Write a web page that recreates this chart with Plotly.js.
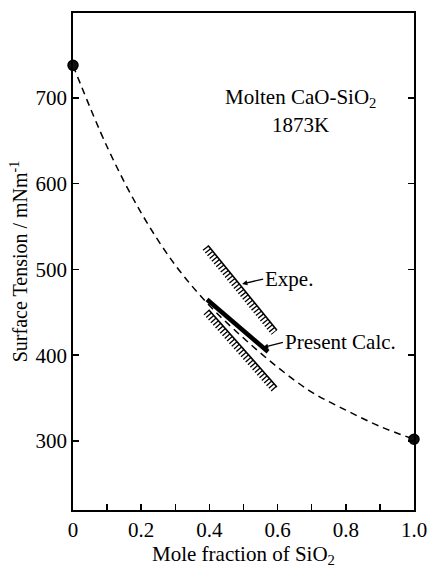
<!DOCTYPE html>
<html>
<head>
<meta charset="utf-8">
<script src="https://cdn.plot.ly/plotly-3.0.1.min.js"></script>
<style>html,body{margin:0;padding:0;background:#fff;}#chart{width:428px;height:568px;}</style>
</head>
<body>
<div id="chart"></div>
<script>
// Dashed fitted curve (mole fraction SiO2 vs surface tension)
const curveX = [0, 0.1, 0.2, 0.3, 0.4, 0.5, 0.6, 0.7, 0.8, 0.9, 1.0];
const curveY = [738, 643, 566, 505, 458, 420, 386, 357, 336, 317, 302];
// Pure component points
const pureX = [0, 1.0];
const pureY = [738, 302];
// Present calculation (thick line)
const calcX = [0.393, 0.572];
const calcY = [465, 404];
// Experimental band (upper and lower hatched bounds)
const expUpperX = [0.396, 0.598];
const expUpperY = [528, 429];
const expLowerX = [0.398, 0.598];
const expLowerY = [453, 363];
// Tick labels
const xTickVals = [0, 0.2, 0.4, 0.6, 0.8, 1.0];
const xTickText = ['0', '0.2', '0.4', '0.6', '0.8', '1.0'];
const xMinorVals = [0.1, 0.3, 0.5, 0.7, 0.9];
const yTickVals = [300, 400, 500, 600, 700];

const W = 428, H = 568;
const M = {l: 73, r: 14, t: 13, b: 58};
const xRange = [0, 1];
const yRange = [219.5, 799];
const pxX = (W - M.l - M.r) / (xRange[1] - xRange[0]);
const pxY = (H - M.t - M.b) / (yRange[1] - yRange[0]);

// offset a segment perpendicular (toward lower-left) by d pixels
function offsetSeg(xs, ys, d) {
  const dxp = (xs[1] - xs[0]) * pxX;
  const dyp = -(ys[1] - ys[0]) * pxY; // screen down positive
  const len = Math.hypot(dxp, dyp);
  let nx = -dyp / len, ny = dxp / len;
  if (ny < 0) { nx = -nx; ny = -ny; }
  const ox = nx * d / pxX, oy = -ny * d / pxY;
  return {x: xs.map(v => v + ox), y: ys.map(v => v + oy)};
}

const hatchLen = 7;
function hatched(xs, ys) {
  const o = offsetSeg(xs, ys, hatchLen / 2);
  return [
    {x: xs, y: ys, mode: 'lines', line: {color: '#000', width: 1.6}, hoverinfo: 'skip', showlegend: false},
    {x: o.x, y: o.y, mode: 'lines', line: {color: '#000', width: hatchLen, dash: '1.3px,2.2px'}, hoverinfo: 'skip', showlegend: false}
  ];
}

const serif = 'Liberation Serif, Times New Roman, serif';
const FS = 21;

const traces = [
  {x: curveX, y: curveY, mode: 'lines', line: {color: '#000', width: 1.5, dash: '7px,5px', shape: 'spline'}, showlegend: false},
  ...hatched(expUpperX, expUpperY),
  ...hatched(expLowerX, expLowerY),
  {x: calcX, y: calcY, mode: 'lines', line: {color: '#000', width: 4.5}, showlegend: false},
  {x: pureX, y: pureY, mode: 'markers', marker: {color: '#111', size: 10, line: {color: '#000', width: 1.5}}, showlegend: false, cliponaxis: false}
];

const layout = {
  width: W, height: H,
  margin: M,
  paper_bgcolor: '#fff', plot_bgcolor: '#fff',
  font: {family: serif, size: FS, color: '#000'},
  showlegend: false,
  xaxis: {
    range: xRange, tickmode: 'array', tickvals: xTickVals, ticktext: xTickText,
    ticks: 'inside', ticklen: 6, tickwidth: 1.5, tickcolor: '#000',
    minor: {tickmode: 'array', tickvals: xMinorVals, ticks: 'inside', ticklen: 6, tickwidth: 1.5, tickcolor: '#000', showgrid: false},
    showline: true, linewidth: 1.8, linecolor: '#000', mirror: true,
    showgrid: false, zeroline: false,
    tickfont: {family: serif, size: FS},
    title: {text: 'Mole fraction of SiO<sub>2</sub>', font: {family: serif, size: FS}, standoff: 4}
  },
  yaxis: {
    range: yRange, tickmode: 'array', tickvals: yTickVals,
    ticks: 'inside', ticklen: 6, tickwidth: 1.5, tickcolor: '#000',
    showline: true, linewidth: 1.8, linecolor: '#000', mirror: 'ticks',
    showgrid: false, zeroline: false,
    tickfont: {family: serif, size: FS},
    title: {text: 'Surface Tension / mNm<sup>-1</sup>', font: {family: serif, size: 20}, standoff: 2}
  },
  annotations: [
    {x: 0.666, y: 700, xref: 'x', yref: 'y', text: 'Molten CaO-SiO<sub>2</sub>', showarrow: false, font: {family: serif, size: FS}},
    {x: 0.666, y: 668, xref: 'x', yref: 'y', text: '1873K', showarrow: false, font: {family: serif, size: FS}},
    {x: 0.496, y: 483, xref: 'x', yref: 'y', text: 'Expe.', showarrow: true, ax: 21, ay: -5, xanchor: 'left',
     arrowhead: 2, arrowsize: 0.8, arrowwidth: 1.3, arrowcolor: '#000', standoff: 0, font: {family: serif, size: FS}},
    {x: 0.557, y: 409, xref: 'x', yref: 'y', text: 'Present Calc.', showarrow: true, ax: 20, ay: -5, xanchor: 'left',
     arrowhead: 2, arrowsize: 0.8, arrowwidth: 1.3, arrowcolor: '#000', standoff: 0, font: {family: serif, size: FS}}
  ]
};

Plotly.newPlot('chart', traces, layout, {displayModeBar: false, staticPlot: true});
</script>
</body>
</html>
